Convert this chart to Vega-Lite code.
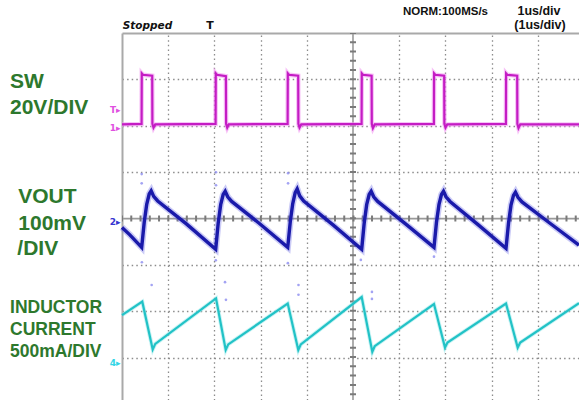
{
  "$schema": "https://vega.github.io/schema/vega-lite/v6.json",
  "autosize": {"type": "none"},
  "padding": {"left": 122, "top": 33, "right": 0, "bottom": 0},
  "width": 457,
  "height": 367,
  "background": "white",
  "config": {"view": {"stroke": null}},
  "datasets": {
    "cross": [
      {"t": 0, "v": 0, "t2": 9.892, "v2": 0},
      {"t": 5, "v": 4, "t2": 5, "v2": -3.909}
    ],
    "sw": [
      {"t": 0, "v": 2.03}, {"t": 0.424, "v": 2.04}, {"t": 0.428, "v": 3.13}, {"t": 0.455, "v": 3.1}, {"t": 0.654, "v": 3.08}, {"t": 0.658, "v": 2.04}, {"t": 0.682, "v": 1.96}, {"t": 0.72, "v": 2.03},
      {"t": 2.026, "v": 2.04}, {"t": 2.03, "v": 3.13}, {"t": 2.056, "v": 3.1}, {"t": 2.249, "v": 3.07}, {"t": 2.253, "v": 2.04}, {"t": 2.277, "v": 1.96}, {"t": 2.31, "v": 2.03},
      {"t": 3.585, "v": 2.04}, {"t": 3.589, "v": 3.13}, {"t": 3.615, "v": 3.1}, {"t": 3.814, "v": 3.08}, {"t": 3.818, "v": 2.04}, {"t": 3.842, "v": 1.96}, {"t": 3.88, "v": 2.03},
      {"t": 5.186, "v": 2.04}, {"t": 5.19, "v": 3.13}, {"t": 5.216, "v": 3.1}, {"t": 5.403, "v": 3.08}, {"t": 5.407, "v": 2.04}, {"t": 5.431, "v": 1.95}, {"t": 5.47, "v": 2.03},
      {"t": 6.751, "v": 2.04}, {"t": 6.755, "v": 3.13}, {"t": 6.781, "v": 3.1}, {"t": 6.974, "v": 3.08}, {"t": 6.978, "v": 2.04}, {"t": 7.002, "v": 1.96}, {"t": 7.04, "v": 2.03},
      {"t": 8.31, "v": 2.04}, {"t": 8.314, "v": 3.13}, {"t": 8.34, "v": 3.1}, {"t": 8.554, "v": 3.08}, {"t": 8.558, "v": 2.04}, {"t": 8.582, "v": 1.95}, {"t": 8.62, "v": 2.03},
      {"t": 9.892, "v": 2.03}
    ],
    "vout": [
      {"t": 0, "v": -0.19}, {"t": 0.17, "v": -0.35}, {"t": 0.426, "v": -0.62},
      {"t": 0.481, "v": -0.08}, {"t": 0.535, "v": 0.31}, {"t": 0.589, "v": 0.53}, {"t": 0.632, "v": 0.6}, {"t": 0.686, "v": 0.48}, {"t": 0.773, "v": 0.38}, {"t": 1.4, "v": -0.12}, {"t": 2.028, "v": -0.66},
      {"t": 2.082, "v": -0.1}, {"t": 2.136, "v": 0.3}, {"t": 2.19, "v": 0.52}, {"t": 2.234, "v": 0.59}, {"t": 2.288, "v": 0.47}, {"t": 2.374, "v": 0.37}, {"t": 2.981, "v": -0.11}, {"t": 3.587, "v": -0.62},
      {"t": 3.641, "v": -0.08}, {"t": 3.695, "v": 0.32}, {"t": 3.749, "v": 0.56}, {"t": 3.792, "v": 0.64}, {"t": 3.846, "v": 0.49}, {"t": 3.933, "v": 0.38}, {"t": 4.561, "v": -0.13}, {"t": 5.188, "v": -0.66},
      {"t": 5.242, "v": -0.1}, {"t": 5.296, "v": 0.3}, {"t": 5.35, "v": 0.52}, {"t": 5.394, "v": 0.59}, {"t": 5.448, "v": 0.47}, {"t": 5.534, "v": 0.37}, {"t": 6.144, "v": -0.12}, {"t": 6.753, "v": -0.62},
      {"t": 6.807, "v": -0.08}, {"t": 6.861, "v": 0.3}, {"t": 6.915, "v": 0.52}, {"t": 6.959, "v": 0.59}, {"t": 7.013, "v": 0.47}, {"t": 7.1, "v": 0.37}, {"t": 7.706, "v": -0.13}, {"t": 8.312, "v": -0.64},
      {"t": 8.366, "v": -0.1}, {"t": 8.42, "v": 0.29}, {"t": 8.474, "v": 0.5}, {"t": 8.517, "v": 0.57}, {"t": 8.571, "v": 0.46}, {"t": 8.658, "v": 0.36}, {"t": 9.264, "v": -0.1}, {"t": 9.892, "v": -0.57}
    ],
    "il": [
      {"t": 0, "v": -2.08}, {"t": 0.439, "v": -1.79}, {"t": 0.665, "v": -2.82}, {"t": 0.72, "v": -2.7},
      {"t": 2.035, "v": -1.72}, {"t": 2.245, "v": -2.83}, {"t": 2.3, "v": -2.71},
      {"t": 3.587, "v": -1.83}, {"t": 3.816, "v": -2.83}, {"t": 3.87, "v": -2.71},
      {"t": 5.188, "v": -1.69}, {"t": 5.418, "v": -2.87}, {"t": 5.47, "v": -2.75},
      {"t": 6.753, "v": -1.84}, {"t": 6.991, "v": -2.78}, {"t": 7.045, "v": -2.67},
      {"t": 8.312, "v": -1.83}, {"t": 8.565, "v": -2.78}, {"t": 8.62, "v": -2.67},
      {"t": 9.892, "v": -1.82}
    ],
    "noise": [
      {"t": 0.426, "v": 0.96}, {"t": 0.426, "v": 0.76}, {"t": 0.43, "v": -0.94},
      {"t": 2.035, "v": 1.0}, {"t": 2.035, "v": 0.72}, {"t": 2.03, "v": -0.9},
      {"t": 3.595, "v": 0.98}, {"t": 3.595, "v": 0.76}, {"t": 3.59, "v": -0.96},
      {"t": 5.17, "v": -0.89}, {"t": 6.753, "v": -0.82},
      {"t": 0.642, "v": -1.43}, {"t": 2.23, "v": -1.37}, {"t": 2.25, "v": -1.75},
      {"t": 3.82, "v": -1.43}, {"t": 3.82, "v": -1.64}, {"t": 5.41, "v": -1.58}, {"t": 5.41, "v": -1.73}
    ],
    "labels": [
      {"t": -2.424, "v": 2.806, "text": "SW", "grp": "big"},
      {"t": -2.424, "v": 2.252, "text": "20V/DIV", "grp": "big"},
      {"t": -2.245, "v": 0.328, "text": "VOUT", "grp": "big"},
      {"t": -2.245, "v": -0.248, "text": "100mV", "grp": "big"},
      {"t": -2.266, "v": -0.787, "text": "/DIV", "grp": "big"},
      {"t": -2.424, "v": -2.043, "text": "INDUCTOR", "grp": "small"},
      {"t": -2.424, "v": -2.511, "text": "CURRENT", "grp": "small"},
      {"t": -2.424, "v": -2.978, "text": "500mA/DIV", "grp": "small"}
    ],
    "top": [
      {"t": 0.015, "v": 4.095, "text": "Stopped", "grp": "stop"},
      {"t": 1.905, "v": 4.084, "text": "T", "grp": "trig"},
      {"t": 6.082, "v": 4.386, "text": "NORM:100MS/s", "grp": "hdr"},
      {"t": 9.026, "v": 4.386, "text": "1us/div", "grp": "div"},
      {"t": 9.048, "v": 4.084, "text": "(1us/div)", "grp": "div"}
    ],
    "markers": [
      {"t": -0.03, "v": 2.338, "text": "T▸", "ch": "sw"},
      {"t": -0.03, "v": 1.95, "text": "1▸", "ch": "sw"},
      {"t": -0.03, "v": -0.075, "text": "2▸", "ch": "vo"},
      {"t": -0.03, "v": -3.114, "text": "4▸", "ch": "il"}
    ]
  },
  "encoding": {
    "x": {
      "field": "t", "type": "quantitative",
      "scale": {"domain": [0, 9.892], "nice": false, "zero": false},
      "axis": {"orient": "top", "values": [1, 2, 3, 4, 6, 7, 8, 9], "labels": false, "ticks": false, "title": null, "grid": true, "gridDash": [1.5, 3.1], "gridColor": "#8c8c8c", "gridWidth": 1.3, "domain": true, "domainColor": "#a9a9a9", "domainWidth": 2}
    },
    "y": {
      "field": "v", "type": "quantitative",
      "scale": {"domain": [-3.909, 4], "nice": false, "zero": false},
      "axis": {"orient": "left", "values": [-3, -2, -1, 1, 2, 3], "labels": false, "ticks": false, "title": null, "grid": true, "gridDash": [1.5, 3.1], "gridColor": "#8c8c8c", "gridWidth": 1.3, "domain": true, "domainColor": "#a9a9a9", "domainWidth": 2}
    }
  },
  "layer": [
    {"data": {"name": "cross"}, "mark": {"type": "rule", "color": "#9a9a9a", "strokeWidth": 1.6},
     "encoding": {"x2": {"field": "t2"}, "y2": {"field": "v2"}}},
    {"data": {"name": "cross"}, "mark": {"type": "rule", "color": "#7a7a7a", "strokeWidth": 6, "strokeDash": [2, 7.26], "strokeDashOffset": 1},
     "encoding": {"x2": {"field": "t2"}, "y2": {"field": "v2"}}},
    {"data": {"name": "noise"}, "mark": {"type": "point", "filled": true, "size": 7, "color": "#8c8cf0", "opacity": 0.8}},
    {"data": {"name": "sw"}, "mark": {"type": "line", "color": "#f29af2", "strokeWidth": 4.5, "opacity": 0.6}},
    {"data": {"name": "sw"}, "mark": {"type": "line", "color": "#c41cc4", "strokeWidth": 2.2}},
    {"data": {"name": "vout"}, "mark": {"type": "line", "color": "#6a6ae6", "strokeWidth": 6.5, "opacity": 0.35}},
    {"data": {"name": "vout"}, "mark": {"type": "line", "color": "#1a1aaa", "strokeWidth": 3.4}},
    {"data": {"name": "il"}, "mark": {"type": "line", "color": "#90e8ea", "strokeWidth": 4, "opacity": 0.5}},
    {"data": {"name": "il"}, "mark": {"type": "line", "color": "#22c2c6", "strokeWidth": 2.2}},
    {"data": {"name": "labels"}, "transform": [{"filter": "datum.grp === 'big'"}],
     "mark": {"type": "text", "align": "left", "baseline": "alphabetic", "font": "Liberation Sans", "fontWeight": "bold", "fontSize": 21, "color": "#2d782d"},
     "encoding": {"text": {"field": "text"}}},
    {"data": {"name": "labels"}, "transform": [{"filter": "datum.grp === 'small'"}],
     "mark": {"type": "text", "align": "left", "baseline": "alphabetic", "font": "Liberation Sans", "fontWeight": "bold", "fontSize": 17.5, "color": "#2d782d"},
     "encoding": {"text": {"field": "text"}}},
    {"data": {"name": "top"}, "transform": [{"filter": "datum.grp === 'stop'"}],
     "mark": {"type": "text", "align": "left", "baseline": "alphabetic", "font": "DejaVu Sans", "fontStyle": "italic", "fontWeight": "bold", "fontSize": 10.5, "color": "#111111"},
     "encoding": {"text": {"field": "text"}}},
    {"data": {"name": "top"}, "transform": [{"filter": "datum.grp === 'trig'"}],
     "mark": {"type": "text", "align": "center", "baseline": "alphabetic", "font": "DejaVu Sans", "fontWeight": "bold", "fontSize": 11, "color": "#111111"},
     "encoding": {"text": {"field": "text"}}},
    {"data": {"name": "top"}, "transform": [{"filter": "datum.grp === 'hdr'"}],
     "mark": {"type": "text", "align": "left", "baseline": "alphabetic", "font": "Liberation Sans", "fontWeight": "bold", "fontSize": 11.5, "color": "#111111"},
     "encoding": {"text": {"field": "text"}}},
    {"data": {"name": "top"}, "transform": [{"filter": "datum.grp === 'div'"}],
     "mark": {"type": "text", "align": "center", "baseline": "alphabetic", "font": "Liberation Sans", "fontWeight": "bold", "fontSize": 12.5, "color": "#111111"},
     "encoding": {"text": {"field": "text"}}},
    {"data": {"name": "markers"},
     "mark": {"type": "text", "align": "right", "baseline": "middle", "font": "DejaVu Sans", "fontWeight": "bold", "fontSize": 9},
     "encoding": {"text": {"field": "text"}, "color": {"field": "ch", "type": "nominal", "scale": {"domain": ["sw", "vo", "il"], "range": ["#e050e0", "#3535d0", "#35d5e5"]}, "legend": null}}}
  ]
}
